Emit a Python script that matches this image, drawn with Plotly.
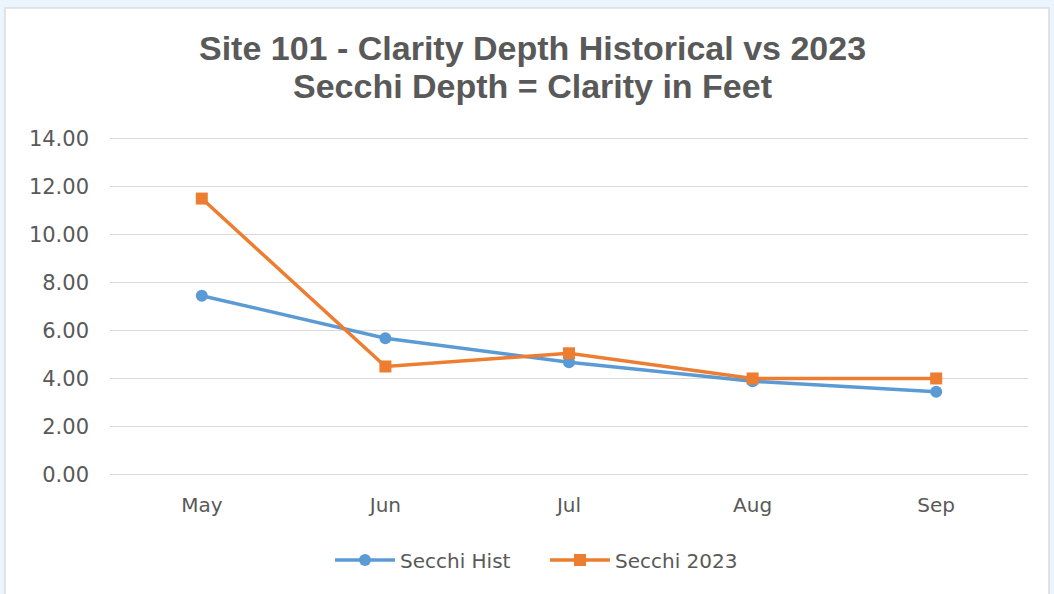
import plotly.graph_objects as go

months = ["May", "Jun", "Jul", "Aug", "Sep"]
secchi_hist = [7.45, 5.68, 4.68, 3.88, 3.45]
secchi_2023 = [11.5, 4.5, 5.05, 4.0, 4.0]
y_ticks = [0, 2, 4, 6, 8, 10, 12, 14]
title_lines = ["Site 101 - Clarity Depth Historical vs 2023", "Secchi Depth = Clarity in Feet"]

W, H = 1054, 594
L, R, T, B = 110, 26, 135, 116
pw, ph = W - L - R, H - T - B

def px_x(x):
    return (x - L) / pw

def px_y(y):
    return (H - B - y) / ph

fig = go.Figure()
fig.add_trace(go.Scatter(
    x=months, y=secchi_hist, name="Secchi Hist", mode="lines+markers",
    line=dict(color="#5b9bd5", width=3.5),
    marker=dict(symbol="circle", size=12, color="#5b9bd5"),
))
fig.add_trace(go.Scatter(
    x=months, y=secchi_2023, name="Secchi 2023", mode="lines+markers",
    line=dict(color="#ed7d31", width=3.5),
    marker=dict(symbol="square", size=12, color="#ed7d31"),
))

# white chart card on light-blue page
fig.add_shape(type="rect", xref="paper", yref="paper", layer="below",
              x0=px_x(5), x1=px_x(1049), y0=px_y(8), y1=px_y(600),
              fillcolor="#ffffff", line=dict(color="#dcdcdc", width=1.5))

title_font = dict(family="Liberation Sans, Arial, sans-serif", size=34, color="#595959", weight="bold")
for txt, yc in zip(title_lines, [48, 86]):
    fig.add_annotation(text=txt, xref="paper", yref="paper", x=px_x(532), y=px_y(yc),
                       xanchor="center", yanchor="middle", showarrow=False, font=title_font)

fig.update_layout(
    width=W, height=H,
    margin=dict(l=L, r=R, t=T, b=B, pad=0),
    paper_bgcolor="#eaf5fd",
    plot_bgcolor="rgba(0,0,0,0)",
    font=dict(family="DejaVu Sans, sans-serif", color="#595959"),
    xaxis=dict(
        type="category", range=[-0.5, 4.5], showgrid=False, showline=False,
        zeroline=False, tickfont=dict(size=20, color="#595959"),
        ticks="", ticklabelstandoff=13,
    ),
    yaxis=dict(
        range=[-0.15, 14.15], tickvals=y_ticks, tickformat=".2f",
        showgrid=True, gridcolor="#d9d9d9", gridwidth=1.3, zeroline=False,
        showline=False, tickfont=dict(size=21, color="#595959"),
        ticks="", ticklabelstandoff=20,
    ),
    legend=dict(
        orientation="h", x=px_x(545), xanchor="center",
        y=px_y(560), yanchor="middle",
        font=dict(size=20, color="#595959"),
        bgcolor="rgba(0,0,0,0)", itemwidth=60, entrywidth=140,
    ),
    showlegend=True,
)

fig.write_html("out.html")
